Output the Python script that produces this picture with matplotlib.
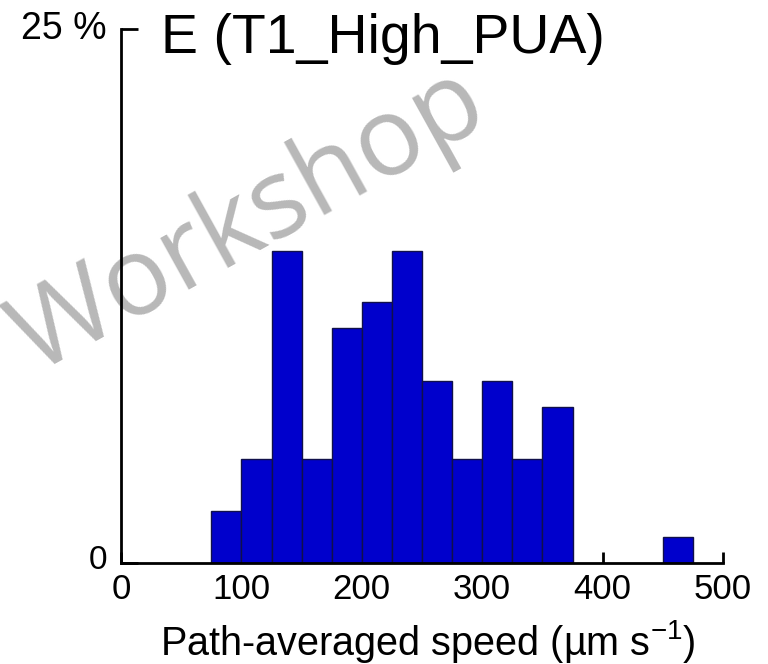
import matplotlib
matplotlib.use("Agg")
import matplotlib.pyplot as plt
from matplotlib.transforms import ScaledTranslation

plt.rcParams['font.family'] = ['Liberation Sans', 'DejaVu Sans']
plt.rcParams['mathtext.fontset'] = 'custom'
plt.rcParams['mathtext.rm'] = 'Liberation Sans'
plt.rcParams['mathtext.it'] = 'Liberation Sans:italic'

# histogram of path-averaged speed, bins of 25 um/s
bin_left = [75, 100, 125, 150, 175, 200, 225, 250, 275, 300, 325, 350, 450]
percent = [2.44, 4.88, 14.63, 4.88, 10.98, 12.20, 14.63, 8.54, 4.88, 8.54, 4.88, 7.32, 1.22]
bin_width = 25

x_ticks = [0, 100, 200, 300, 400, 500]
y_ticks = [0, 25]
y_tick_labels = ["0", "25 %"]

title = "E (T1_High_PUA)"
x_label = "Path-averaged speed (\u00b5m s$^{-1}$)"

fig = plt.figure(figsize=(7.68, 6.64), dpi=100)
ax = fig.add_axes([121 / 768, 1 - 563 / 664, 602 / 768, 534 / 664])
ax.set_facecolor('none')

ax.bar(bin_left, percent, width=bin_width, align='edge',
       color='#0000cc', edgecolor='#10104a', linewidth=1.0, zorder=2)

ax.set_xlim(0, 500)
ax.set_ylim(0, 25)

for side in ['top', 'right']:
    ax.spines[side].set_visible(False)
for side in ['left', 'bottom']:
    ax.spines[side].set_linewidth(2.0)

ax.set_xticks(x_ticks)
ax.set_yticks(y_ticks)
ax.set_yticklabels(y_tick_labels)
ax.tick_params(axis='x', direction='in', length=8, width=2, pad=7, labelsize=25)
ax.tick_params(axis='y', direction='in', length=12, width=2, pad=10, labelsize=24)
ylabs = ax.get_yticklabels()
ylabs[1].set_fontsize(27)
# lift the y labels a little above their ticks
for lab, dy in zip(ylabs, [6, 4]):
    lab.set_transform(lab.get_transform() + ScaledTranslation(0, dy / 100, fig.dpi_scale_trans))

ax.set_xlabel(x_label, fontsize=28.5, labelpad=9)
ax.xaxis.label.set_x(0.51)

fig.text(161 / 768, 1 - 53 / 664, title, fontsize=40, ha='left', va='baseline')

# grey watermark behind the axes
fig.text(249 / 768, 1 - 222 / 664, "Workshop", family='Open Sans', fontsize=79,
         color='#b8b8b8', rotation=29, rotation_mode='anchor',
         ha='center', va='center', zorder=-1)

fig.savefig("out.png", dpi=100)
